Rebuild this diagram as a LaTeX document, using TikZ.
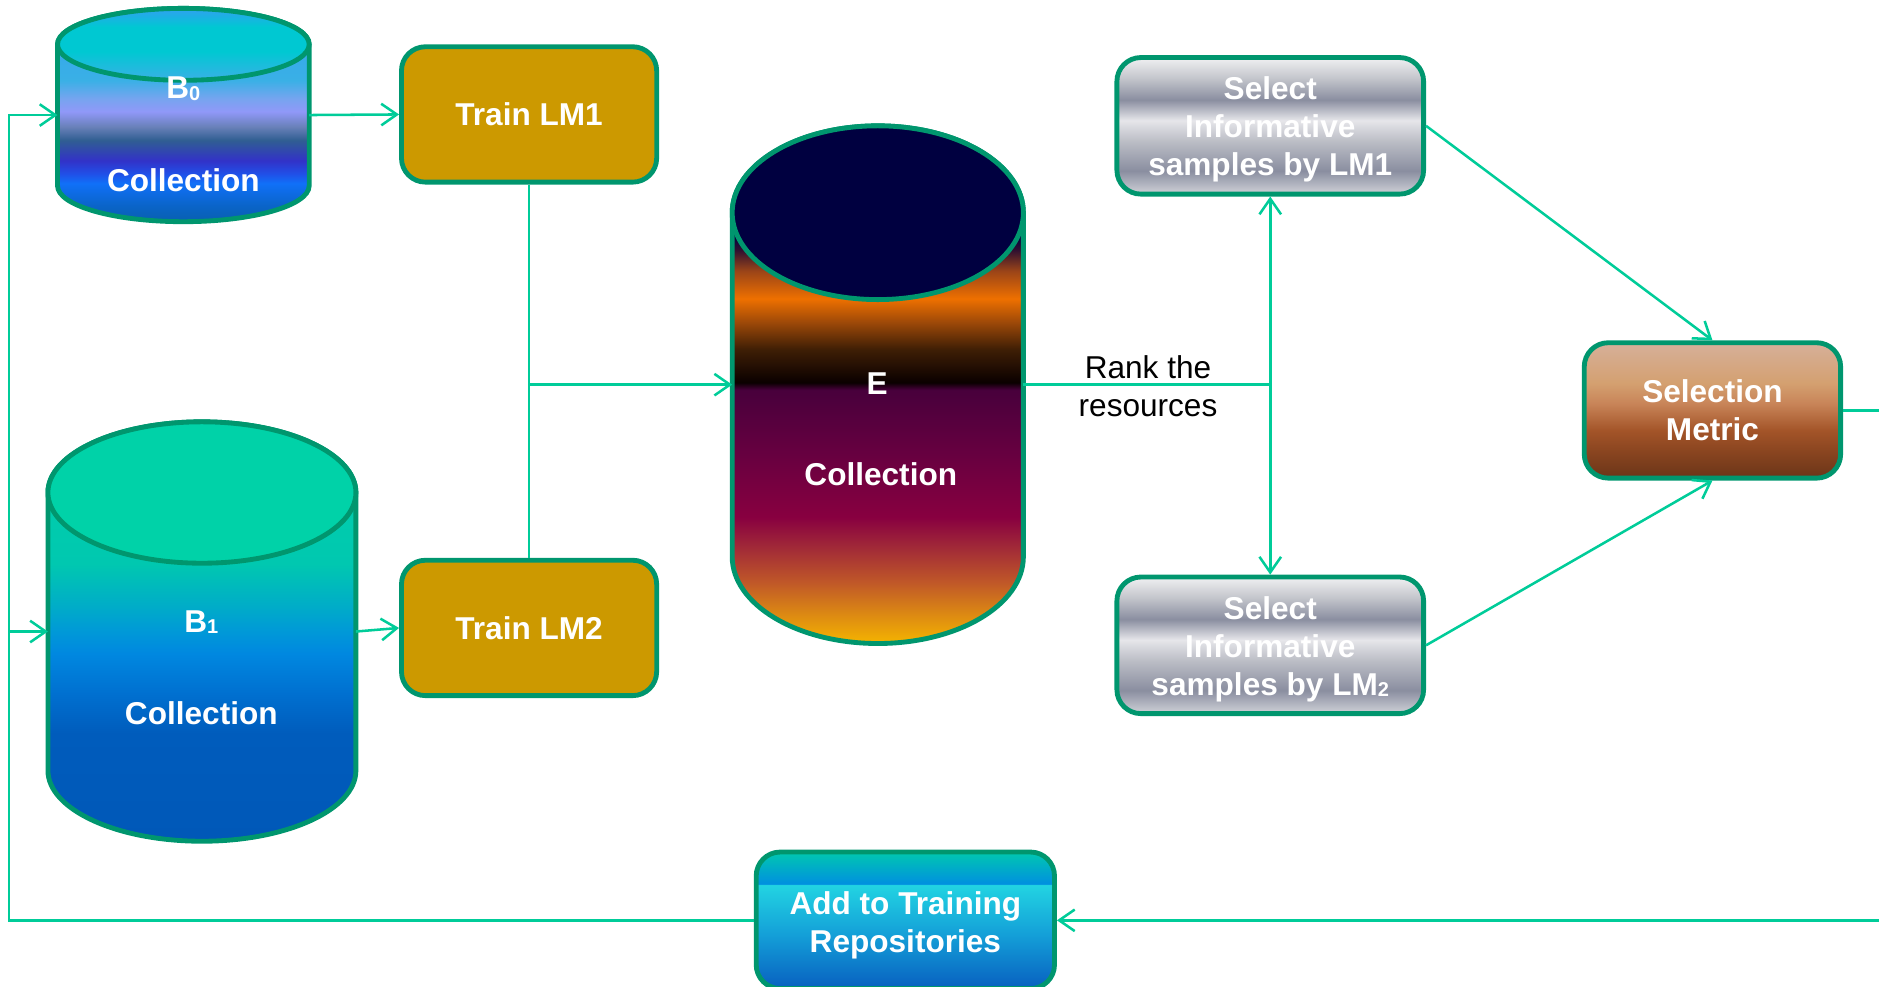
\documentclass[tikz,border=0pt]{standalone}
\usepackage{fontspec}
\setmainfont{Liberation Sans}
\usetikzlibrary{positioning, calc, arrows.meta}

\definecolor{flow}{HTML}{00CC99}
\definecolor{rim}{HTML}{00966E}
\definecolor{gold}{HTML}{CC9900}
\definecolor{ink}{HTML}{000000}
% E collection
\definecolor{ea}{HTML}{F5B400}\definecolor{eb}{HTML}{E09010}\definecolor{ec}{HTML}{C05828}
\definecolor{ed}{HTML}{A02838}\definecolor{ee}{HTML}{880040}\definecolor{ef}{HTML}{680040}
\definecolor{eg}{HTML}{48003C}\definecolor{eh}{HTML}{0A0000}\definecolor{ei}{HTML}{3E1E05}
\definecolor{ej}{HTML}{A04A08}\definecolor{ek}{HTML}{EE7000}\definecolor{el}{HTML}{9A4418}
\definecolor{em}{HTML}{301030}\definecolor{en}{HTML}{000040}
% B0 collection
\definecolor{ba}{HTML}{0860B0}\definecolor{bb}{HTML}{0A64C8}\definecolor{bc}{HTML}{1070F8}
\definecolor{bd}{HTML}{2050E8}\definecolor{be}{HTML}{3232C8}\definecolor{bf}{HTML}{305E92}
\definecolor{bg}{HTML}{6880B8}\definecolor{bh}{HTML}{9098F8}\definecolor{bi}{HTML}{78A4F0}
\definecolor{bj}{HTML}{3AB0E6}\definecolor{bk}{HTML}{30A0F0}\definecolor{bl}{HTML}{00C8D2}
% B1 collection
\definecolor{ca}{HTML}{0058B8}\definecolor{cb}{HTML}{005CBC}\definecolor{cc}{HTML}{0070D0}
\definecolor{cd}{HTML}{0088E0}\definecolor{ce}{HTML}{0098D8}\definecolor{cf}{HTML}{00ACC8}
\definecolor{cg}{HTML}{00C8B0}\definecolor{ch}{HTML}{00D2A8}
% select boxes
\definecolor{ma}{HTML}{D0D2D8}\definecolor{mb}{HTML}{8A8EA0}\definecolor{mc}{HTML}{BCBEC6}
\definecolor{md}{HTML}{E6E6EA}\definecolor{mf}{HTML}{C4C6CC}\definecolor{mg}{HTML}{F0F0F2}
% selection metric
\definecolor{ka}{HTML}{6A3518}\definecolor{kb}{HTML}{8A4520}\definecolor{kc}{HTML}{A35428}
\definecolor{kd}{HTML}{C88458}\definecolor{ke}{HTML}{D4A070}\definecolor{kf}{HTML}{D6B09A}
% add to training
\definecolor{aa}{HTML}{0860C0}\definecolor{ab}{HTML}{14A0D8}\definecolor{ac}{HTML}{22D4E2}
\definecolor{ad}{HTML}{0090E0}\definecolor{ae}{HTML}{00C8B0}

\pgfdeclareverticalshading{sunset}{100bp}{color(0bp)=(ea); color(25bp)=(ea); color(27.4bp)=(eb);
  color(30.9bp)=(ec); color(34.4bp)=(ed); color(37.2bp)=(ee); color(43.1bp)=(ef); color(49.5bp)=(eg);
  color(50.2bp)=(eh); color(53.4bp)=(ei); color(56.1bp)=(ej); color(58.3bp)=(ek); color(61bp)=(el);
  color(63bp)=(em); color(64.4bp)=(en); color(100bp)=(en)}
\pgfdeclareverticalshading{lagoon}{100bp}{color(0bp)=(ba); color(25bp)=(ba); color(28.7bp)=(bb);
  color(34bp)=(bc); color(36.2bp)=(bd); color(39.3bp)=(be); color(44.1bp)=(bf); color(47.2bp)=(bg);
  color(50.8bp)=(bh); color(53.7bp)=(bi); color(58.1bp)=(bj); color(75bp)=(bk); color(100bp)=(bk)}
\pgfdeclareverticalshading{reef}{100bp}{color(0bp)=(ca); color(25bp)=(ca); color(37.9bp)=(cb);
  color(42.6bp)=(cc); color(47.4bp)=(cd); color(49.9bp)=(ce); color(53bp)=(cf); color(58.1bp)=(cg);
  color(75bp)=(ch); color(100bp)=(ch)}
\pgfdeclareverticalshading{chrome}{100bp}{color(0bp)=(ma); color(25bp)=(ma); color(33.5bp)=(mb);
  color(44.5bp)=(mc); color(52bp)=(md); color(59.5bp)=(mb); color(67.5bp)=(mf); color(75bp)=(mg);
  color(100bp)=(mg)}
\pgfdeclareverticalshading{copper}{100bp}{color(0bp)=(ka); color(25bp)=(ka); color(35bp)=(kb);
  color(42.5bp)=(kc); color(52.5bp)=(kd); color(60bp)=(ke); color(75bp)=(kf); color(100bp)=(kf)}
\pgfdeclareverticalshading{aqua}{100bp}{color(0bp)=(aa); color(25bp)=(aa); color(45bp)=(ab);
  color(63bp)=(ac); color(63.3bp)=(ad); color(75bp)=(ae); color(100bp)=(ae)}
\pgfdeclareverticalshading{lid}{100bp}{color(0bp)=(bj); color(25bp)=(bj); color(45bp)=(bl);
  color(62bp)=(bl); color(75bp)=(bk); color(100bp)=(bk)}

\newcommand{\lowdig}[1]{\raisebox{-0.6pt}{\fontsize{9.5}{9.5}\selectfont #1}}
\newcommand{\topstrut}[1]{\rule{0pt}{#1}}
% #1 name, #2 cx, #3 cy, #4 rx, #5 half height, #6 lid ry, #7 body shading, #8 lid options
\newcommand{\drum}[8]{%
  \node[drumbox, minimum width=2*#4*0.02cm, minimum height=2*#5*0.02cm] (#1) at (#2,#3) {};
  \shade[shading=#7, draw=rim, line width=2.3pt]
    (#2-#4,#3+#5-#6) -- (#2-#4,#3-#5+#6) arc[start angle=180, end angle=360, x radius=#4, y radius=#6]
    -- (#2+#4,#3+#5-#6) arc[start angle=0, end angle=180, x radius=#4, y radius=#6] -- cycle;
  \path[draw=rim, line width=2.3pt, #8] (#2,#3+#5-#6) ellipse[x radius=#4, y radius=#6];
}

\begin{document}
\begin{tikzpicture}[x=0.02cm, y=0.02cm, >={Straight Barb[length=2.6mm, width=3.6mm]},
  every node/.style={font=\fontsize{15}{18}\selectfont},
  wire/.style={draw=flow, line width=1.2pt},
  card/.style={rectangle, rounded corners=0.4cm, draw=rim, line width=2.3pt, align=center,
    text=white, font=\fontsize{15}{18}\selectfont\bfseries, inner sep=0pt},
  drumbox/.style={rectangle, inner sep=0pt, outer sep=0pt},
  tag/.style={text=white, font=\fontsize{15}{18}\selectfont\bfseries, inner sep=0pt}]
  \useasboundingbox (0,0) rectangle (1568,823);

  % collections
  \drum{b0}{153}{727}{105}{89}{30}{lagoon}{shade, shading=lid}
  \drum{b1}{168.5}{296}{128.5}{175}{59}{reef}{fill=ch}
  \drum{eset}{732.5}{502}{121.5}{216}{72.5}{sunset}{fill=en}
  \node[tag] (b0top) at (153,749) {B\lowdig{0}};
  \node[tag] (b0low) at (153,673) {Collection};
  \node[tag] (b1top) at (168,304) {B\lowdig{1}};
  \node[tag] (b1low) at (168,228) {Collection};
  \node[tag] (etop) at (732,503) {E};
  \node[tag] (elow) at (735,427) {Collection};

  % boxes
  \node[card, fill=gold, minimum width=4.26cm, minimum height=2.26cm] (lm1) at (441.5,727.5) {Train LM1};
  \node[card, fill=gold, minimum width=4.26cm, minimum height=2.26cm] (lm2) at (441.5,299) {Train LM2};
  \node[card, shade, shading=chrome, minimum width=5.12cm, minimum height=2.28cm] (sel1) at (1060,718)
    {\topstrut{14.4pt}Select\\Informative\\samples by LM1};
  \node[card, shade, shading=chrome, minimum width=5.12cm, minimum height=2.28cm] (sel2) at (1060,284.5)
    {\topstrut{14.4pt}Select\\Informative\\samples by LM\lowdig{2}};
  \node[card, shade, shading=copper, minimum width=4.28cm, minimum height=2.26cm] (metric) at (1429,480.5)
    {Selection\\Metric};
  \node[card, shade, shading=aqua, minimum width=4.98cm, minimum height=2.28cm] (addrep) at (755.5,55)
    {\topstrut{15.4pt}Add to Training\\Repositories};
  \node[align=center, inner sep=0pt, text=ink] (rank) at (958,501) {Rank the\\resources};

  \coordinate (loopL) at (7.5,0);
  \coordinate (loopR) at (1610,0);

  \draw[wire,->] (b0.east) -- (lm1.west);
  \draw[wire,->] (b1.east) -- (lm2.west);
  \draw[wire] (lm1.south) -- (lm2.north);
  \draw[wire,->] (lm1.south |- eset.west) -- (eset.west);
  \draw[wire] (eset.east) -- (sel1.south |- eset.east) coordinate (fork);
  \draw[wire,->] (fork) -- (sel1.south);
  \draw[wire,->] (fork) -- (sel2.north);
  \draw[wire,->] (sel1.east) -- (metric.north);
  \draw[wire,->] (sel2.east) -- (metric.south);
  \draw[wire,->] (metric.east) -- (metric.east -| loopR) |- (addrep.east);
  \draw[wire,->] (addrep.west) -| (loopL |- b0.west) -- (b0.west);
  \draw[wire,->] (loopL |- b1.west) -- (b1.west);
\end{tikzpicture}
\end{document}
